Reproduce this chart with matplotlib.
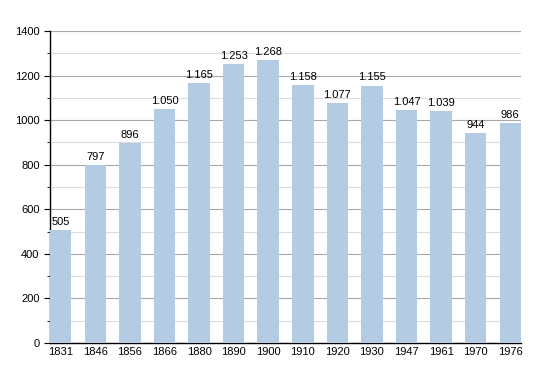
import matplotlib.pyplot as plt
from matplotlib.ticker import MultipleLocator

plt.rcParams["font.family"] = ["Liberation Sans", "DejaVu Sans"]

years = ["1831", "1846", "1856", "1866", "1880", "1890", "1900",
         "1910", "1920", "1930", "1947", "1961", "1970", "1976"]
population = [505, 797, 896, 1050, 1165, 1253, 1268,
              1158, 1077, 1155, 1047, 1039, 944, 986]

fig = plt.figure(figsize=(5.5, 3.73), dpi=100)
ax = fig.add_axes([50 / 550, 30 / 373, 471 / 550, 312 / 373])

x = range(len(years))
ax.bar(x, population, width=0.62, color="#b3cce4", zorder=3)

for i, v in zip(x, population):
    label = f"{v:,}".replace(",", ".")
    ax.text(i, v + 14, label, ha="center", va="bottom", fontsize=8, zorder=4)

ax.set_xlim(-0.31, len(years) - 1 + 0.31)
ax.set_ylim(0, 1400)
ax.set_xticks(list(x))
ax.set_xticklabels(years)
ax.yaxis.set_major_locator(MultipleLocator(200))
ax.yaxis.set_minor_locator(MultipleLocator(100))
ax.grid(axis="y", which="major", color="#a8a8a8", linewidth=0.8, zorder=0)
ax.grid(axis="y", which="minor", color="#dcdcdc", linewidth=0.8, zorder=0)

for s in ["top", "right"]:
    ax.spines[s].set_visible(False)
ax.spines["left"].set_linewidth(1.0)
ax.spines["bottom"].set_linewidth(1.0)
ax.tick_params(axis="x", length=0, labelsize=8, pad=3)
ax.tick_params(axis="y", which="major", length=4, labelsize=8)
ax.tick_params(axis="y", which="minor", length=2)

fig.savefig("out.png", dpi=100)
